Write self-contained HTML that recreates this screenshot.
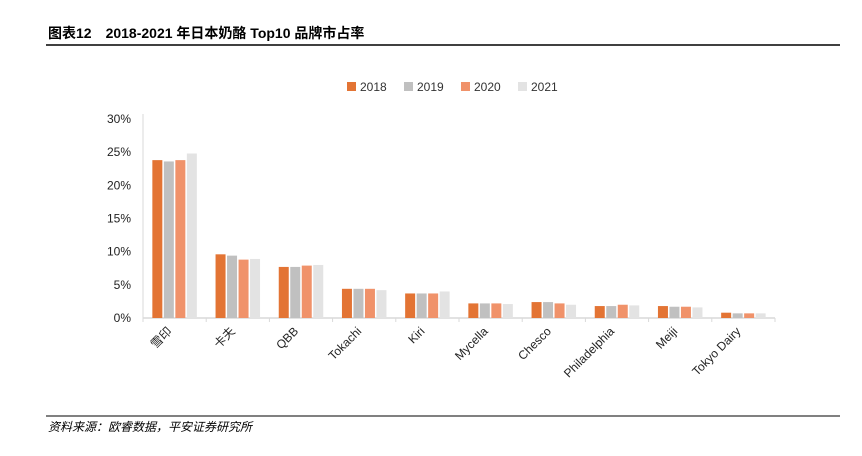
<!DOCTYPE html>
<html><head><meta charset="utf-8"><style>
body{margin:0;background:#fff;width:862px;height:451px;overflow:hidden;font-family:"Liberation Sans","Noto Sans CJK SC",sans-serif}
</style></head><body>
<svg width="862" height="451" xmlns="http://www.w3.org/2000/svg" font-family="Liberation Sans, Noto Sans CJK SC, sans-serif">
<text x="48" y="38" font-size="14" font-weight="bold" fill="#000">图表12　2018-2021 年日本奶酪 Top10 品牌市占率</text>
<line x1="46" y1="45" x2="840" y2="45" stroke="#000" stroke-width="1.5"/>
<g id="legend"></g>
<g id="chart"></g>
<line x1="46" y1="416" x2="840" y2="416" stroke="#000" stroke-width="1"/>
<text x="48" y="431" font-size="12" font-style="italic" fill="#000">资料来源：欧睿数据，平安证券研究所</text>
</svg>
<script>
const categories=["雪印","卡夫","QBB","Tokachi","Kiri","Mycella","Chesco","Philadelphia","Meiji","Tokyo Dairy"];
const seriesNames=["2018","2019","2020","2021"];
const s2018=[23.8,9.6,7.7,4.4,3.7,2.2,2.4,1.8,1.8,0.8];
const s2019=[23.6,9.4,7.7,4.4,3.7,2.2,2.4,1.8,1.7,0.7];
const s2020=[23.8,8.8,7.9,4.4,3.7,2.2,2.2,2.0,1.7,0.7];
const s2021=[24.8,8.9,8.0,4.2,4.0,2.1,2.0,1.9,1.6,0.7];
const yTicks=[0,5,10,15,20,25,30];
const series=[s2018,s2019,s2020,s2021];
const colors=["#E37434","#C0C0C0","#F0926A","#E3E3E3"];
const NS="http://www.w3.org/2000/svg";
const g=document.getElementById('chart');
const x0=143,x1=775,yb=318,yt=119;
const y=v=>yb-(v/30)*(yb-yt);
const cw=(x1-x0)/categories.length;
function mk(t,a){const e=document.createElementNS(NS,t);for(const k in a)e.setAttribute(k,a[k]);return e;}
const ax=mk('line',{x1:x0,y1:yb,x2:x1,y2:yb,stroke:'#d9d9d9','stroke-width':1.5});


g.appendChild(ax);
const ay=mk('line',{x1:x0,y1:yt-5,x2:x0,y2:yb,stroke:'#d9d9d9','stroke-width':1});


g.appendChild(ay);
yTicks.forEach(t=>{
 const tx=mk('text',{x:131,y:y(t)+4,'text-anchor':'end','font-size':12,fill:'#222'});
 tx.textContent=t+'%';
 
 
 g.appendChild(tx);
});
for(let i=0;i<=categories.length;i++){
 const tk=mk('line',{x1:x0+i*cw,y1:yb,x2:x0+i*cw,y2:yb+4,stroke:'#d9d9d9'});
 
 
 g.appendChild(tk);
}
const bw=10,gap=1.5,gw=4*bw+3*gap;
categories.forEach((c,i)=>{
 const cx=x0+i*cw+cw/2;
 series.forEach((s,j)=>{
  const bx=cx-gw/2+j*(bw+gap);
  const r=mk('rect',{x:bx,y:y(s[i]),width:bw,height:yb-y(s[i]),fill:colors[j]});
  
  
  g.appendChild(r);
 });
 const lx=cx-2,ly=yb+14;
 const tx=mk('text',{x:lx,y:ly,'text-anchor':'end','font-size':12,fill:'#222',transform:`rotate(-45 ${lx} ${ly})`});
 tx.textContent=c;
 
 
 g.appendChild(tx);
});
const lg=document.getElementById('legend');
seriesNames.forEach((n,j)=>{
 const lx=347+j*57;
 const r=mk('rect',{x:lx,y:82,width:9,height:9,fill:colors[j]});
 
 
 lg.appendChild(r);
 const t=mk('text',{x:lx+13,y:91,'font-size':12,fill:'#333'});
 t.textContent=n;
 
 
 lg.appendChild(t);
});
</script>
</body></html>
